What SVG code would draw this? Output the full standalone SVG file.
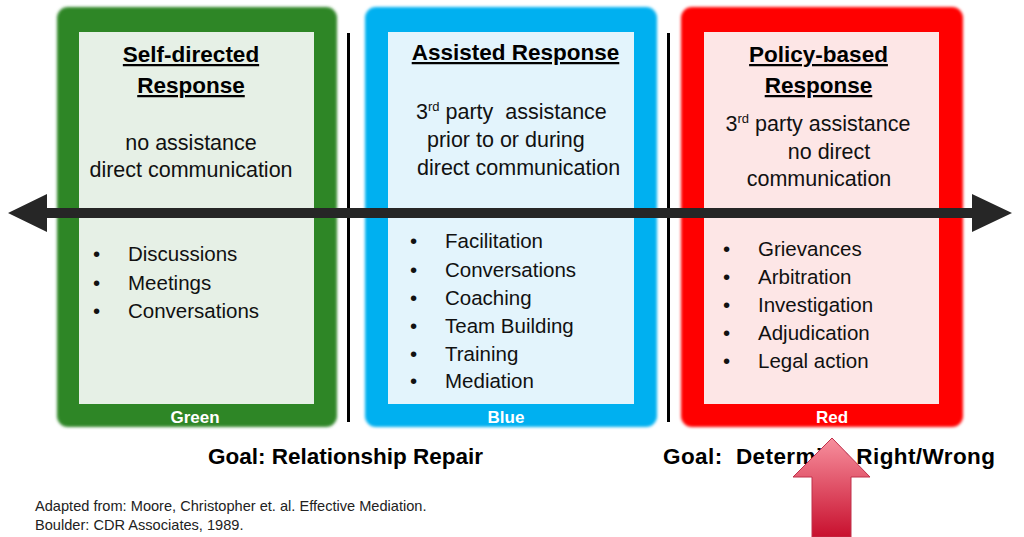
<svg xmlns="http://www.w3.org/2000/svg" width="1024" height="537" viewBox="0 0 1024 537">
  <defs>
    <filter id="soft" x="-5%" y="-5%" width="110%" height="110%">
      <feGaussianBlur stdDeviation="1.4"/>
    </filter>
    <linearGradient id="pointerFill" x1="0" y1="0" x2="0" y2="1">
      <stop offset="0" stop-color="#f7909e"/>
      <stop offset="1" stop-color="#c8102e"/>
    </linearGradient>
    <style>
      .title { font-family: "Liberation Sans", Arial, sans-serif; font-size: 22.5px; font-weight: bold; fill: #000; text-decoration: underline; text-anchor: middle; }
      .body { font-family: "Liberation Sans", Arial, sans-serif; font-size: 21.5px; fill: #111; }
      .mid { text-anchor: middle; }
      .item { font-family: "Liberation Sans", Arial, sans-serif; font-size: 20.5px; fill: #111; }
      .tag { font-family: "Liberation Sans", Arial, sans-serif; font-size: 17px; font-weight: bold; fill: #fff; text-anchor: middle; }
      .goal { font-family: "Liberation Sans", Arial, sans-serif; font-size: 22.5px; font-weight: bold; fill: #000; }
      .note { font-family: "Liberation Sans", Arial, sans-serif; font-size: 14.6px; fill: #222; }
      .divider { stroke: #000; stroke-width: 3; }
    </style>
  </defs>

  <rect width="1024" height="537" fill="#fff"/>

  <!-- Self-directed response -->
  <g id="self-directed">
    <rect x="57" y="7" width="280" height="420" rx="11" fill="#2d8627" filter="url(#soft)"/>
    <rect x="79" y="32" width="235" height="372" fill="#e6f0e6"/>
    <text class="title" x="191" y="62">Self-directed</text>
    <text class="title" x="191" y="93">Response</text>
    <text class="body mid" x="191" y="150">no assistance</text>
    <text class="body mid" x="191" y="177">direct communication</text>
    <g class="item">
      <text x="93" y="261">•</text><text x="128" y="261">Discussions</text>
      <text x="93" y="290">•</text><text x="128" y="290">Meetings</text>
      <text x="93" y="318">•</text><text x="128" y="318">Conversations</text>
    </g>
    <text class="tag" x="195" y="423">Green</text>
  </g>

  <!-- Assisted response -->
  <g id="assisted">
    <rect x="365" y="7" width="292" height="420" rx="11" fill="#00b0f0" filter="url(#soft)"/>
    <rect x="388" y="32" width="246" height="372" fill="#e3f4fc"/>
    <text class="title" x="515.5" y="60">Assisted Response</text>
    <text class="body" x="416" y="119" xml:space="preserve">3<tspan font-size="13" dy="-8">rd</tspan><tspan dy="8"> party  assistance</tspan></text>
    <text class="body" x="427" y="147">prior to or during</text>
    <text class="body" x="417" y="175">direct communication</text>
    <g class="item">
      <text x="410" y="248">•</text><text x="445" y="248">Facilitation</text>
      <text x="410" y="277">•</text><text x="445" y="277">Conversations</text>
      <text x="410" y="305">•</text><text x="445" y="305">Coaching</text>
      <text x="410" y="333">•</text><text x="445" y="333">Team Building</text>
      <text x="410" y="361">•</text><text x="445" y="361">Training</text>
      <text x="410" y="388">•</text><text x="445" y="388">Mediation</text>
    </g>
    <text class="tag" x="506" y="423">Blue</text>
  </g>

  <!-- Policy-based response -->
  <g id="policy-based">
    <rect x="681" y="7" width="282" height="420" rx="11" fill="#ff0000" filter="url(#soft)"/>
    <rect x="704" y="32" width="235" height="372" fill="#fde6e6"/>
    <text class="title" x="818.5" y="62">Policy-based</text>
    <text class="title" x="818.5" y="93">Response</text>
    <text class="body mid" x="818" y="131">3<tspan font-size="13" dy="-8">rd</tspan><tspan dy="8"> party assistance</tspan></text>
    <text class="body mid" x="829" y="159">no direct</text>
    <text class="body mid" x="819" y="186">communication</text>
    <g class="item">
      <text x="723" y="256">•</text><text x="758" y="256">Grievances</text>
      <text x="723" y="284">•</text><text x="758" y="284">Arbitration</text>
      <text x="723" y="312">•</text><text x="758" y="312">Investigation</text>
      <text x="723" y="340">•</text><text x="758" y="340">Adjudication</text>
      <text x="723" y="368">•</text><text x="758" y="368">Legal action</text>
    </g>
    <text class="tag" x="832" y="423">Red</text>
  </g>

  <!-- Dividers and the two-way continuum arrow -->
  <g id="connectors">
    <line class="divider" x1="348.5" y1="33" x2="348.5" y2="422"/>
    <line class="divider" x1="668.5" y1="33" x2="668.5" y2="422"/>
    <path d="M8 213 L47 194 L47 208 L972 208 L972 194 L1012 213 L972 232 L972 218 L47 218 L47 232 Z" fill="#262626"/>
  </g>

  <!-- Goals -->
  <g id="goals">
    <text class="goal" x="208" y="464">Goal: Relationship Repair</text>
    <text class="goal" x="663" y="464" textLength="332" xml:space="preserve">Goal:  Determine Right/Wrong</text>
  </g>

  <!-- Pointer to the policy-based end -->
  <g id="pointer">
    <path d="M832 438 L870 477 L851 477 L851 537 L812 537 L812 477 L793 477 Z" fill="url(#pointerFill)" stroke="#c0304a" stroke-width="1"/>
  </g>

  <!-- Source -->
  <g id="source">
    <text class="note" x="35" y="511">Adapted from: Moore, Christopher et. al. Effective Mediation.</text>
    <text class="note" x="35" y="530">Boulder: CDR Associates, 1989.</text>
  </g>
</svg>
